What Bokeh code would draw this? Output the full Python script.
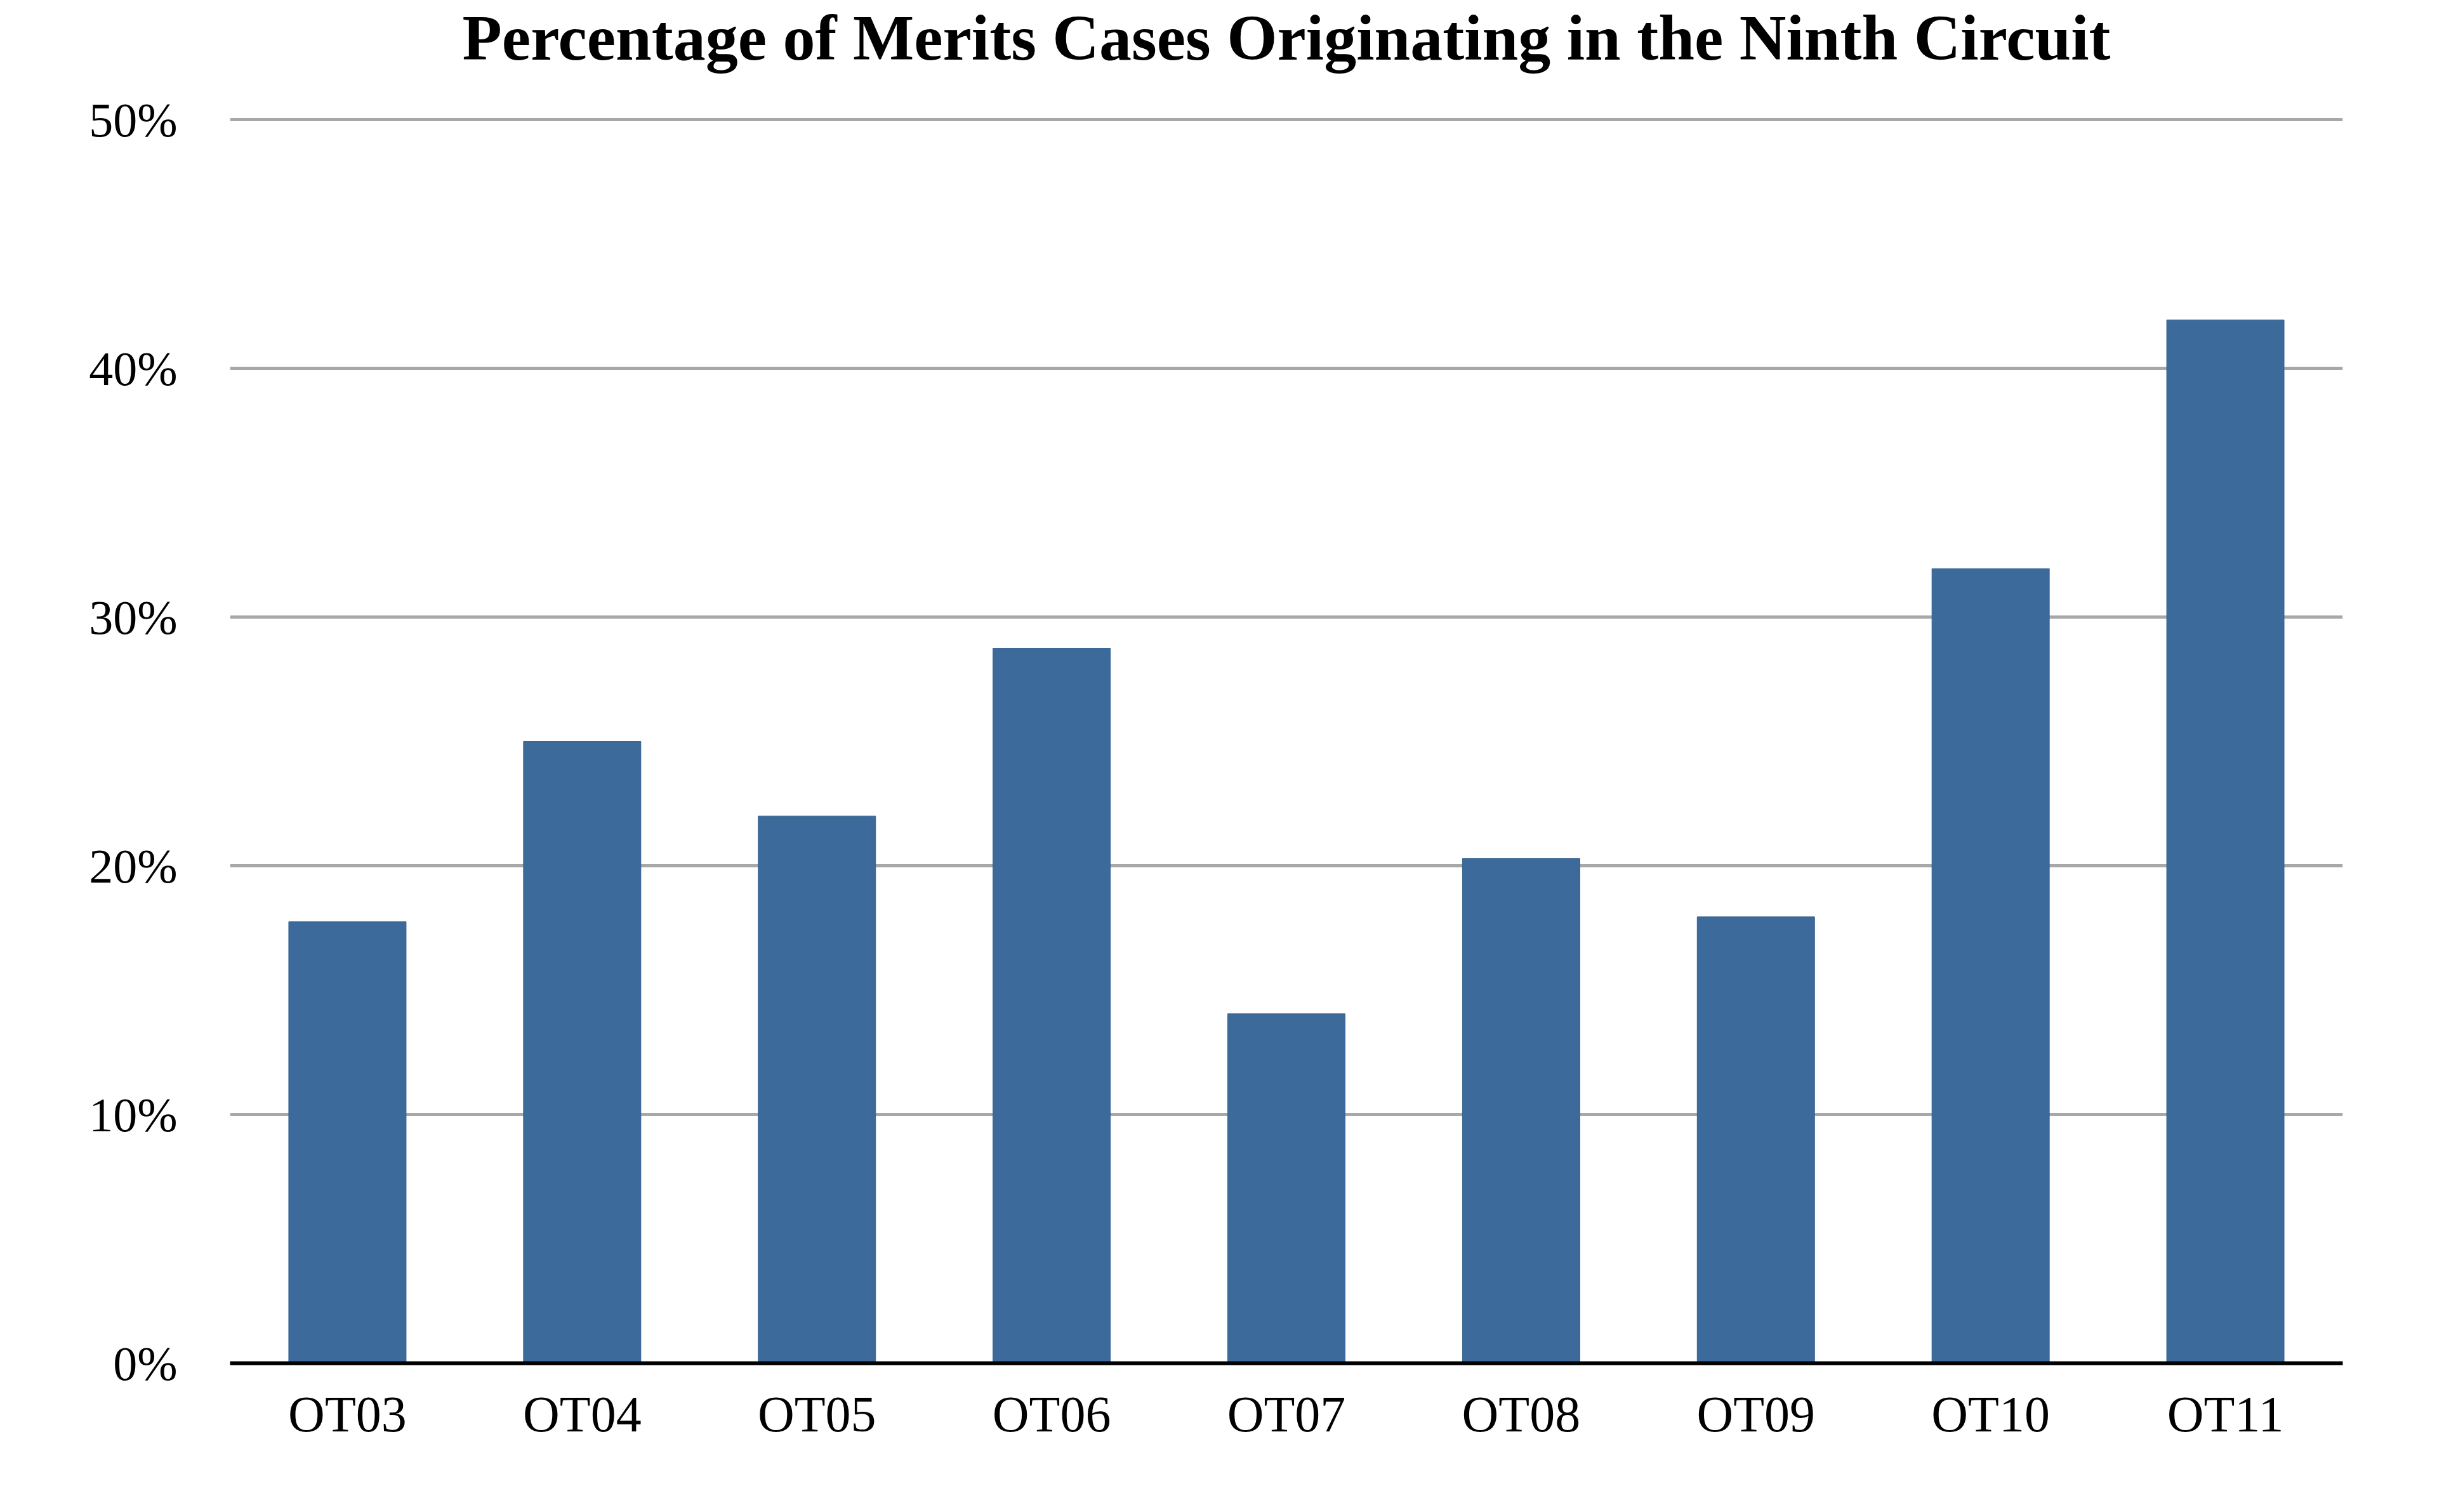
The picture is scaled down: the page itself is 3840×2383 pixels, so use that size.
from bokeh.plotting import figure
from bokeh.models import FixedTicker, FactorRange, Range1d, Label
from bokeh.embed import file_html
from bokeh.resources import INLINE

terms = ["OT03", "OT04", "OT05", "OT06", "OT07", "OT08", "OT09", "OT10", "OT11"]
pct = [17.75, 25.0, 22.0, 28.75, 14.05, 20.3, 17.95, 31.95, 41.95]
y_ticks = [0, 10, 20, 30, 40, 50]
y_tick_labels = ["0%", "10%", "20%", "30%", "40%", "50%"]
title_text = "Percentage of Merits Cases Originating in the Ninth Circuit"

SERIF = "Liberation Serif"

# frame extends up to hold the title (no outline, no y-axis line, ticks only to 50%)
p = figure(width=3824, height=2366, output_backend="svg", toolbar_location=None,
           x_range=FactorRange(*terms), y_range=Range1d(0, 54.8),
           min_border_left=362, min_border_right=133, min_border_top=0,
           min_border_bottom=218, tools="")

p.vbar(x=terms, top=pct, width=0.5, fill_color="#3c6a9b", line_color="#34618f", line_width=1)

title = Label(x=len(terms) / 2, y=53.3, text=title_text, text_align="center",
              text_baseline="alphabetic", text_font=SERIF, text_font_style="bold",
              text_font_size="102px", text_color="#000000")
p.add_layout(title)

p.outline_line_color = None
p.background_fill_color = "white"
p.border_fill_color = "white"

p.xgrid.grid_line_color = None
p.ygrid.grid_line_color = "#a8a8a8"
p.ygrid.grid_line_width = 5
p.ygrid.ticker = FixedTicker(ticks=y_ticks)

p.yaxis.ticker = FixedTicker(ticks=y_ticks)
p.yaxis.major_label_overrides = {t: l for t, l in zip(y_ticks, y_tick_labels)}
p.yaxis.axis_line_color = None
p.yaxis.major_tick_line_color = None
p.yaxis.minor_tick_line_color = None
p.yaxis.major_label_standoff = 77
p.yaxis.major_label_text_font = SERIF
p.yaxis.major_label_text_font_size = "76px"
p.yaxis.major_label_text_color = "#000000"

p.xaxis.axis_line_color = "#000000"
p.xaxis.axis_line_width = 6
p.xaxis.major_tick_line_color = None
p.xaxis.minor_tick_line_color = None
p.xaxis.major_label_standoff = 30
p.xaxis.major_label_text_font = SERIF
p.xaxis.major_label_text_font_size = "80px"
p.xaxis.major_label_text_color = "#000000"

open("out.html", "w").write(file_html(p, INLINE))
